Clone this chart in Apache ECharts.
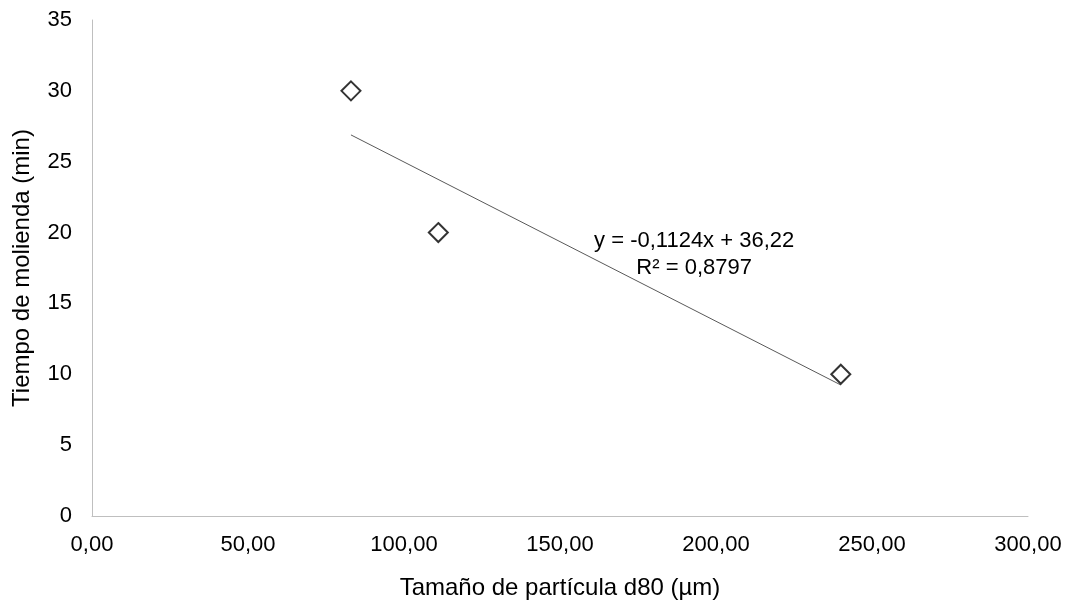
<!DOCTYPE html>
<html>
<head>
<meta charset="utf-8">
<script src="https://cdn.jsdelivr.net/npm/echarts@6/dist/echarts.min.js"></script>
<style>
html,body{margin:0;padding:0;background:#fff;}
#chart{width:1074px;height:605px;}
</style>
</head>
<body>
<div id="chart"></div>
<script>
// Data
const d80 = [83, 111, 240];            // Tamaño de partícula d80 (µm)
const tiempo = [30, 20, 10];           // Tiempo de molienda (min)
const trendCoef = [-0.1124, 36.22];    // slope, intercept (from the chart's equation)
const eqLines = ['y = -0,1124x + 36,22', 'R² = 0,8797'];
const eqAnchor = [193, 18.45];         // label anchor in data units
const xAxisRange = [0, 300, 50];
const yAxisRange = [0, 35, 5];
const xTitle = 'Tamaño de partícula d80 (µm)';
const yTitle = 'Tiempo de molienda (min)';

const FONT = 'Liberation Sans, Arial, sans-serif';
const points = d80.map((x, i) => [x, tiempo[i]]);
const xMin = Math.min(...d80), xMax = Math.max(...d80);
const trend = [xMin, xMax].map(x => [x, trendCoef[0] * x + trendCoef[1]]);

const chart = echarts.init(document.getElementById('chart'), null, {renderer: 'canvas'});
chart.setOption({
  backgroundColor: '#ffffff',
  animation: false,
  grid: {left: 92, right: 46, top: 20, bottom: 88, containLabel: false},
  xAxis: {
    type: 'value',
    min: xAxisRange[0], max: xAxisRange[1], interval: xAxisRange[2],
    name: xTitle, nameLocation: 'middle', nameGap: 60,
    nameTextStyle: {fontFamily: FONT, fontSize: 24, color: '#000'},
    axisLine: {show: true, lineStyle: {color: '#bfbfbf', width: 1}},
    axisTick: {show: false},
    splitLine: {show: false},
    axisLabel: {fontFamily: FONT, fontSize: 22, color: '#000', margin: 18,
      formatter: v => v.toFixed(2).replace('.', ',')}
  },
  yAxis: {
    type: 'value',
    min: yAxisRange[0], max: yAxisRange[1], interval: yAxisRange[2],
    name: yTitle, nameLocation: 'middle', nameGap: 58, nameRotate: 90,
    nameTextStyle: {fontFamily: FONT, fontSize: 24, color: '#000'},
    axisLine: {show: true, lineStyle: {color: '#bfbfbf', width: 1}},
    axisTick: {show: false},
    splitLine: {show: false},
    axisLabel: {fontFamily: FONT, fontSize: 22, color: '#000', margin: 20}
  },
  series: [
    {
      type: 'line',
      data: trend,
      symbol: 'none',
      lineStyle: {color: '#595959', width: 1},
      z: 1,
      markPoint: {
        symbol: 'circle', symbolSize: 0,
        data: [{coord: eqAnchor}],
        label: {show: true, position: 'inside', formatter: eqLines.join('\n'),
          fontFamily: FONT, fontSize: 22, color: '#000', lineHeight: 27, align: 'center'}
      }
    },
    {
      type: 'scatter',
      data: points,
      symbol: 'diamond',
      symbolSize: 19,
      itemStyle: {color: '#ffffff', borderColor: '#000000', borderWidth: 2},
      z: 3
    }
  ]
});
</script>
</body>
</html>
